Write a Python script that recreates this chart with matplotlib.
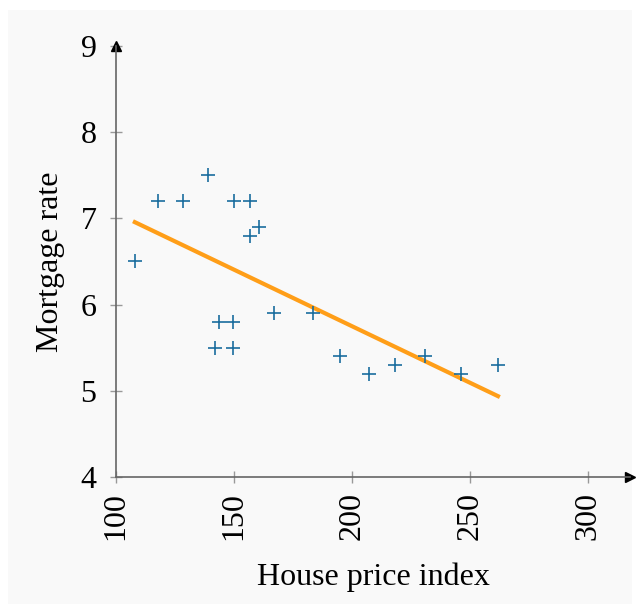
import numpy as np
import matplotlib.pyplot as plt
from matplotlib.patches import Rectangle

# data
house_price = [108, 118, 128.5, 139, 150, 157, 157, 160.5, 142, 143.5,
               149.5, 149.5, 167, 183.5, 195, 207.5, 218.5, 231, 246.5, 262]
mortgage_rate = [6.5, 7.2, 7.2, 7.5, 7.2, 7.2, 6.8, 6.9, 5.5, 5.8,
                 5.8, 5.5, 5.9, 5.9, 5.4, 5.2, 5.3, 5.4, 5.2, 5.3]
x_ticks = [100, 150, 200, 250, 300]
y_ticks = [4, 5, 6, 7, 8, 9]

plt.rcParams['font.family'] = ['Liberation Serif', 'DejaVu Serif']
plt.rcParams['font.size'] = 23

fig = plt.figure(figsize=(6.37, 6.09), dpi=100)
fig.patch.set_facecolor('white')
# light gray panel behind the plot
fig.patches.append(Rectangle((8 / 637, 5 / 609), 624 / 637, 594 / 609,
                             transform=fig.transFigure, facecolor='#f9f9f9',
                             edgecolor='none', zorder=-10))

ax = fig.add_axes([116 / 637, 132 / 609, 514 / 637, 431 / 609])
ax.set_facecolor('none')

ax.scatter(house_price, mortgage_rate, marker='+', s=90, linewidths=1.2,
           color='#1a6d9e', zorder=3)

# least squares fit line
slope, intercept = np.polyfit(house_price, mortgage_rate, 1)
xs = np.array([min(house_price), max(house_price)])
ax.plot(xs, slope * xs + intercept, color='#ff9e18', lw=3, zorder=2)

ax.set_xlim(100, 318)
ax.set_ylim(4, 9)
ax.set_xticks(x_ticks)
ax.set_yticks(y_ticks)
ax.tick_params(axis='x', labelrotation=90, pad=7)
ax.tick_params(axis='y', pad=10)

for side in ['top', 'right']:
    ax.spines[side].set_visible(False)
for side in ['left', 'bottom']:
    ax.spines[side].set_color('#666666')
    ax.spines[side].set_linewidth(1.2)
ax.tick_params(direction='inout', length=8, width=1, color='#999999',
               labelcolor='black')

# axis arrows
ax.plot(1, 0, marker='>', color='black', markersize=7,
        transform=ax.transAxes, clip_on=False)
ax.plot(0, 1, marker='^', color='black', markersize=7,
        transform=ax.transAxes, clip_on=False)

ax.set_xlabel('House price index', labelpad=16)
ax.set_ylabel('Mortgage rate', labelpad=11)

fig.savefig('out.png', dpi=100)
